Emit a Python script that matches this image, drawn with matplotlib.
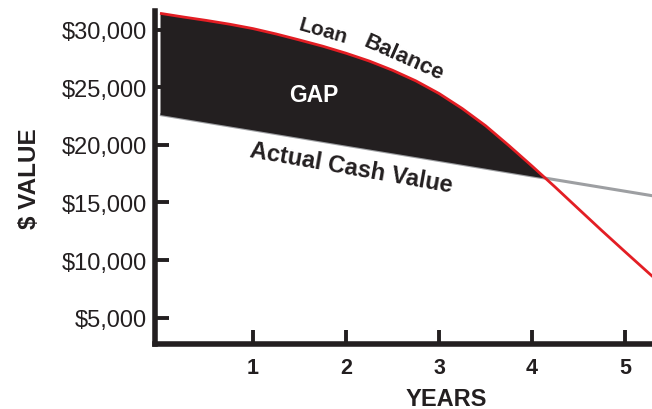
import matplotlib
matplotlib.use("Agg")
import matplotlib.pyplot as plt
import numpy as np

plt.rcParams["font.family"] = ["Liberation Sans", "DejaVu Sans"]

INK = "#231f20"
RED = "#e31e24"
GREY = "#9d9fa2"

# loan balance at quarter-year steps
loan_years = [0.0, 0.25, 0.5, 0.75, 1.0, 1.25, 1.5, 1.75, 2.0, 2.25, 2.5, 2.75,
              3.0, 3.25, 3.5, 3.75, 4.0, 4.25, 4.5, 4.75, 5.0, 5.25, 5.3]
loan_balance = [31450, 31130, 30830, 30500, 30120, 29650, 29130, 28590, 27980, 27300, 26500, 25580,
                24480, 23170, 21680, 19960, 18170, 16330, 14440, 12560, 10720, 8900, 8540]

# actual cash value (straight depreciation line)
acv_years = [0.0, 1.0, 2.0, 3.0, 4.0, 5.0, 5.3]
acv_value = [22650, 21320, 19980, 18650, 17310, 15980, 15580]

x_ticks = [1, 2, 3, 4, 5]
y_ticks = [5000, 10000, 15000, 20000, 25000, 30000]
y_labels = ["$5,000", "$10,000", "$15,000", "$20,000", "$25,000", "$30,000"]

fig = plt.figure(figsize=(6.52, 4.10), dpi=100)
ax = fig.add_axes([0.2377, 0.1585, 0.7623, 0.8122])

ax.plot(acv_years, acv_value, color=GREY, lw=2.2, zorder=2, solid_capstyle="butt")

acv_on_loan = np.interp(loan_years, acv_years, acv_value)
ax.fill_between(loan_years, acv_on_loan, loan_balance,
                where=np.array(loan_balance) >= acv_on_loan, interpolate=True,
                color=INK, lw=0, zorder=3)
ax.plot(loan_years, loan_balance, color=RED, lw=2.0, zorder=4,
        solid_capstyle="butt", solid_joinstyle="round")

ax.set_xlim(-0.054, 5.29)
ax.set_ylim(2695, 31650)

ax.set_xticks(x_ticks)
ax.set_xticklabels([str(t) for t in x_ticks], fontsize=15.5, fontweight="bold", color=INK)
ax.set_yticks(y_ticks)
ax.set_yticklabels(y_labels, fontsize=17, color=INK)
ax.tick_params(axis="both", direction="in", length=10, width=2.8, color=INK)
ax.tick_params(axis="x", pad=9)
ax.tick_params(axis="y", pad=6)

for side in ["top", "right"]:
    ax.spines[side].set_visible(False)
for side in ["left", "bottom"]:
    ax.spines[side].set_linewidth(4)
    ax.spines[side].set_color(INK)

ax.text(1.75, 29950, "Loan", fontsize=15, fontweight="bold", color=INK,
        rotation=-16, ha="center", va="center", rotation_mode="anchor")
ax.text(2.62, 27650, "Balance", fontsize=16, fontweight="bold", color=INK,
        rotation=-24, ha="center", va="center", rotation_mode="anchor")
ax.text(1.65, 24350, "GAP", fontsize=16.5, fontweight="bold", color="white",
        ha="center", va="center", zorder=5)
ax.text(2.06, 18090, "Actual Cash Value", fontsize=17, fontweight="bold", color=INK,
        rotation=-10, ha="center", va="center", rotation_mode="anchor")

fig.text(446 / 652, 1 - 400 / 410, "YEARS", fontsize=17, fontweight="bold", color=INK,
         ha="center", va="center")
fig.text(30 / 652, 1 - 179 / 410, "$ VALUE", fontsize=17.5, fontweight="bold", color=INK,
         ha="center", va="center", rotation=90)

fig.savefig("out.png", dpi=100)
